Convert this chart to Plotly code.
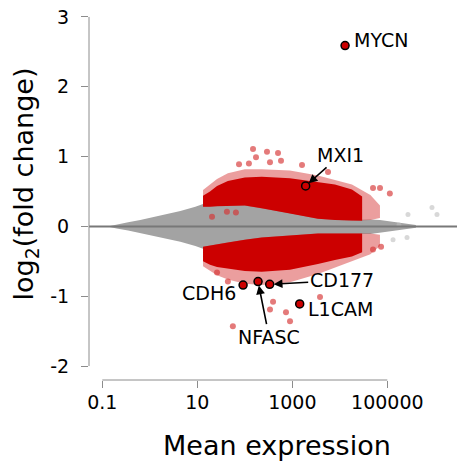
import plotly.graph_objects as go
import math

# ---- data ----
# grey (non-significant) cloud envelope
grey_x = [0.13, 0.2, 0.35, 0.63, 1.8, 4.4, 9.1, 13.2, 44, 100, 227, 890, 3460, 18000, 44000, 70000, 150000, 400000]
grey_upper = [0, 0.03, 0.06, 0.09, 0.16, 0.22, 0.28, 0.32, 0.32, 0.31, 0.28, 0.2, 0.12, 0.09, 0.1, 0.09, 0.06, 0.02]
grey_lower = [0, -0.03, -0.06, -0.09, -0.16, -0.22, -0.28, -0.32, -0.3, -0.25, -0.2, -0.15, -0.12, -0.11, -0.11, -0.09, -0.06, -0.02]

# dense red (significant) bands
red_x = [13.2, 18.5, 26, 44, 100, 227, 890, 3460, 7900, 18000, 29500]
red_up_inner = [0.28, 0.28, 0.29, 0.30, 0.30, 0.26, 0.19, 0.11, 0.09, 0.08, 0.08]
red_up_outer = [0.44, 0.5, 0.58, 0.65, 0.7, 0.71, 0.69, 0.64, 0.6, 0.53, 0.43]
red_lo_inner = [-0.29, -0.27, -0.25, -0.23, -0.19, -0.16, -0.13, -0.10, -0.10, -0.10, -0.10]
red_lo_outer = [-0.5, -0.55, -0.58, -0.61, -0.64, -0.65, -0.62, -0.54, -0.48, -0.43, -0.37]

# sparser red fringe
fringe_x = [13.2, 18.5, 26, 44, 100, 227, 890, 3460, 7900, 18000, 44000, 70000]
fringe_up_inner = [0.28, 0.28, 0.29, 0.30, 0.30, 0.26, 0.19, 0.11, 0.09, 0.08, 0.09, 0.12]
fringe_up_outer = [0.52, 0.6, 0.68, 0.76, 0.82, 0.82, 0.8, 0.73, 0.67, 0.6, 0.45, 0.3]
fringe_lo_inner = [-0.29, -0.27, -0.25, -0.23, -0.19, -0.16, -0.13, -0.10, -0.10, -0.10, -0.10, -0.12]
fringe_lo_outer = [-0.57, -0.64, -0.7, -0.76, -0.82, -0.84, -0.8, -0.68, -0.59, -0.5, -0.4, -0.28]

# individual outlying red points
out_red_x = [149, 293, 500, 172, 339, 578, 75.5, 122, 1600, 5650, 50000, 70200, 113000,
             20.4, 42, 65, 56, 736, 3830, 393, 339, 895, 26, 44, 73800, 50000]
out_red_y = [1.11, 1.07, 1.05, 0.99, 0.92, 0.94, 0.89, 0.90, 0.88, 0.78, 0.55, 0.55, 0.47,
             0.14, 0.21, 0.20, -1.43, -1.23, -1.01, -1.08, -1.19, -1.36, -0.66, -0.79, -0.29, -0.33]

# individual outlying grey points
out_grey_x = [272000, 871000, 1110000, 176000, 260000, 132000]
out_grey_y = [0.17, 0.27, 0.17, 0.02, -0.16, -0.19]

# labelled genes
genes = ["MYCN", "MXI1", "CDH6", "NFASC", "CD177", "L1CAM"]
gene_x = [12900, 1910, 92, 190, 334, 1430]
gene_y = [2.59, 0.58, -0.84, -0.79, -0.83, -1.11]

x_tickvals = [0.1, 10, 1000, 100000]
x_ticktext = ["0.1", "10", "1000", "100000"]
y_tickvals = [-2, -1, 0, 1, 2, 3]
y_ticktext = ["-2", "-1", "0", "1", "2", "3"]

RED = "rgb(204,0,0)"
GREY = "rgb(163,163,163)"
FONT = "DejaVu Sans"

fig = go.Figure()


def band(xs, lo, hi, color):
    fig.add_trace(go.Scatter(
        x=list(xs) + list(xs)[::-1],
        y=list(hi) + list(lo)[::-1],
        mode="lines", line=dict(width=0), fill="toself", fillcolor=color,
        hoverinfo="skip", showlegend=False))


band(grey_x, grey_lower, grey_upper, GREY)
band(fringe_x, fringe_up_inner, fringe_up_outer, "rgba(210,40,40,0.45)")
band(fringe_x, fringe_lo_outer, fringe_lo_inner, "rgba(210,40,40,0.45)")
band(red_x, red_up_inner, red_up_outer, RED)
band(red_x, red_lo_outer, red_lo_inner, RED)

fig.add_trace(go.Scatter(x=out_grey_x, y=out_grey_y, mode="markers",
                         marker=dict(size=5, color="rgba(190,190,190,0.6)"),
                         showlegend=False, hoverinfo="skip"))
fig.add_trace(go.Scatter(x=out_red_x, y=out_red_y, mode="markers",
                         marker=dict(size=6, color="rgba(214,50,50,0.65)"),
                         showlegend=False, hoverinfo="skip"))
fig.add_trace(go.Scatter(x=gene_x, y=gene_y, mode="markers",
                         marker=dict(size=8, color=RED, line=dict(color="black", width=1.5)),
                         showlegend=False, hoverinfo="text", text=genes))

# labels (annotation x positions on log axes are given in log10 units)
label_style = {
    "MYCN": dict(showarrow=False, xanchor="left", yanchor="middle", xshift=7, yshift=6),
    "MXI1": dict(showarrow=True, ax=35, ay=-31),
    "CDH6": dict(showarrow=False, xanchor="right", yanchor="middle", xshift=-5, yshift=-8),
    "NFASC": dict(showarrow=True, ax=11, ay=55),
    "CD177": dict(showarrow=True, ax=72, ay=-4),
    "L1CAM": dict(showarrow=False, xanchor="left", yanchor="middle", xshift=6, yshift=-5),
}
for g, gx, gy in zip(genes, gene_x, gene_y):
    st = label_style[g]
    kw = dict(x=math.log10(gx), y=gy, xref="x", yref="y", text=g,
              font=dict(family=FONT, size=19, color="black"))
    if st["showarrow"]:
        kw.update(showarrow=True, ax=st["ax"], ay=st["ay"], axref="pixel", ayref="pixel",
                  arrowhead=2, arrowsize=1.1, arrowwidth=1.6, arrowcolor="black",
                  standoff=4)
    else:
        kw.update(showarrow=False, xanchor=st["xanchor"], yanchor=st["yanchor"],
                  xshift=st["xshift"], yshift=st["yshift"])
    fig.add_annotation(**kw)

# axis titles
fig.add_annotation(text="Mean expression", xref="paper", yref="paper",
                   x=0.51, y=-0.175, xanchor="center", yanchor="middle", showarrow=False,
                   font=dict(family=FONT, size=27, color="black"))
fig.add_annotation(text="log<sub>2</sub>(fold change)", xref="paper", yref="paper",
                   x=-0.17, y=0.52, xanchor="center", yanchor="middle", showarrow=False,
                   textangle=-90, font=dict(family=FONT, size=27, color="black"))

# zero line and R-style axis lines
fig.add_shape(type="line", xref="paper", yref="y", x0=0, x1=1, y0=0, y1=0,
              line=dict(color="rgb(120,120,120)", width=2), layer="above")
fig.add_shape(type="line", xref="paper", yref="y", x0=0, x1=0, y0=-2, y1=3,
              line=dict(color="rgb(140,140,140)", width=1))
fig.add_shape(type="line", xref="x", yref="paper", x0=0.1, x1=100000, y0=0, y1=0,
              line=dict(color="rgb(140,140,140)", width=1))

fig.update_layout(
    width=459, height=471,
    margin=dict(l=89, r=2, t=3, b=91),
    paper_bgcolor="white", plot_bgcolor="white",
    font=dict(family=FONT, size=19, color="black"),
    xaxis=dict(type="log", range=[-1.28, 6.467], tickvals=x_tickvals, ticktext=x_ticktext,
               ticks="outside", ticklen=7, tickcolor="rgb(140,140,140)", showgrid=False,
               zeroline=False, showline=False, tickfont=dict(family=FONT, size=19),
               ticklabelstandoff=-2),
    yaxis=dict(range=[-2.2, 3.2], tickvals=y_tickvals, ticktext=y_ticktext,
               ticks="outside", ticklen=7,
               tickcolor="rgb(140,140,140)", showgrid=False, zeroline=False, showline=False,
               tickfont=dict(family=FONT, size=19), ticklabelstandoff=8),
)

fig.write_html("out.html", config={"displayModeBar": False},
               post_script="document.body.style.margin='0px';")
